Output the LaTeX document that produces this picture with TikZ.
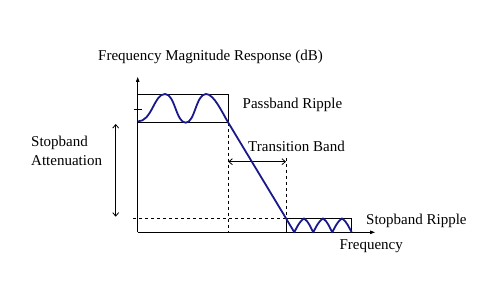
\documentclass[tikz,border=0pt]{standalone}
\usepackage{fontspec}
\setmainfont{Liberation Serif}
\usetikzlibrary{arrows.meta}
\definecolor{curveblue}{RGB}{25,25,140}
\begin{document}
\begin{tikzpicture}[x=1pt,y=1pt,
  lbl/.style={font=\fontsize{15}{18}\selectfont, inner sep=0pt},
  axis/.style={line width=0.8pt,-{Triangle[length=5pt,width=3.5pt]}},
  thin/.style={line width=0.8pt},
  dsh/.style={line width=0.8pt,dash pattern=on 3pt off 3pt},
  dbl/.style={line width=0.8pt,{Straight Barb[length=3.5pt,width=6pt]}-{Straight Barb[length=3.5pt,width=6pt]}},
  resp/.style={line width=1.8pt,curveblue,line join=round}]
\useasboundingbox (0,0) rectangle (502,296);
% key points
\coordinate (O) at (137.7,63.7);
\coordinate (xend) at (375,63.7);
\coordinate (yend) at (137.7,219);
\coordinate (pbTL) at (137.7,202);
\coordinate (pbBR) at (228.3,173.3);
\coordinate (sbTL) at (286,77.7);
\coordinate (sbBR) at (351.7,63.7);
\coordinate (pbB) at (228.3,63.7);
\coordinate (tickL) at (133.5,186.7);
\coordinate (tickR) at (142,186.7);
\coordinate (hdL) at (133,77.7);
\coordinate (tbL) at (228.3,134.3);
\coordinate (tbR) at (286,134.3);
\coordinate (tbTop) at (286,138);
\coordinate (atTop) at (115.7,172);
\coordinate (atBot) at (115.7,79.3);
% axes
\draw[axis] (O) -- (yend);
\draw[axis] (O) -- (xend);
% boxes
\draw[thin] (pbTL) rectangle (pbBR);
\draw[thin] (sbTL) rectangle (sbBR);
\draw[thin] (tickL) -- (tickR);
% dashed guides
\draw[dsh] (pbBR) -- (pbB);
\draw[dsh] (tbTop) -- (sbTL);
\draw[dsh] (hdL) -- (sbTL);
% dimension arrows
\draw[dbl] (tbL) -- (tbR);
\draw[dbl] (atTop) -- (atBot);
% response curve
\draw[resp] (137.7,174.5) .. controls (152,174.5) and (154,202) .. (165,202)
  .. controls (175,202) and (176,173.3) .. (185.7,173.3)
  .. controls (195,173.3) and (196,202) .. (206,202)
  .. controls (214,202) and (222.3,183.2) .. (pbBR) -- (sbTL)
  to[out=-60,in=120] (294.3,63.7)
  to[out=62,in=218] (304,77.7) to[out=-38,in=120] (313.3,63.7)
  to[out=62,in=218] (323,77.7) to[out=-38,in=120] (332.3,63.7)
  to[out=62,in=218] (342,77.7) to[out=-38,in=120] (351.7,63.7);
% labels
\node[lbl,anchor=west] (title) at (98,239) {Frequency Magnitude Response (dB)};
\node[lbl,anchor=west] (pr) at (242.5,191) {Passband Ripple};
\node[lbl] (tb) at (296.5,150) {Transition Band};
\node[lbl,anchor=west,align=left,font=\fontsize{15}{19}\selectfont] (sa) at (31,145.5) {Stopband\\Attenuation};
\node[lbl,anchor=west] (sr) at (366,75.3) {Stopband Ripple};
\node[lbl,anchor=west] (fr) at (339.3,49.3) {Frequency};
\end{tikzpicture}
\end{document}
